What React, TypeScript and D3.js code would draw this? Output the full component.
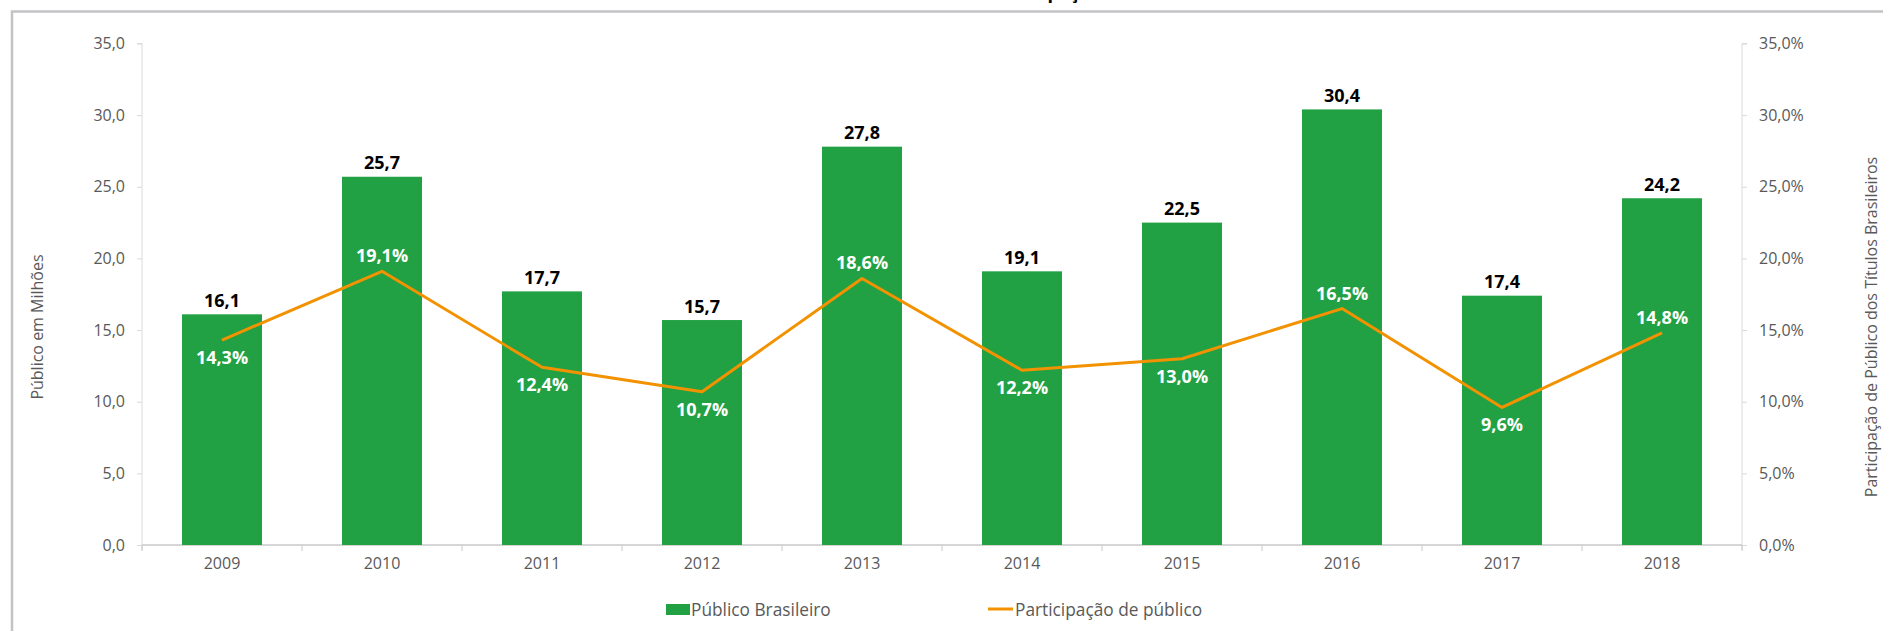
import React, { useEffect, useRef } from 'react';
import * as d3 from 'd3';

const years = ['2009', '2010', '2011', '2012', '2013', '2014', '2015', '2016', '2017', '2018'];
const publico = [16.1, 25.7, 17.7, 15.7, 27.8, 19.1, 22.5, 30.4, 17.4, 24.2];
const participacao = [14.3, 19.1, 12.4, 10.7, 18.6, 12.2, 13.0, 16.5, 9.6, 14.8];
// where Excel put each % label relative to its point
const pctLabelSide = ['below', 'above', 'below', 'below', 'above', 'below', 'below', 'above', 'below', 'above'];
const leftTicks = [0, 5, 10, 15, 20, 25, 30, 35];
const rightTicks = [0, 5, 10, 15, 20, 25, 30, 35];

const width = 1883;
const height = 631;
const plot = { left: 142, right: 1742, top: 43.5, bottom: 545 };

const green = '#21a143';
const orange = '#f39200';
const gray = '#595959';
const font = '"Open Sans", "Noto Sans", sans-serif';

const fmt = (v: number, d = 1) => v.toFixed(d).replace('.', ',');

const App = () => {
  const ref = useRef<SVGSVGElement>(null);

  useEffect(() => {
    const svg = d3.select(ref.current);
    svg.selectAll('*').remove();

    // outer frame (only top & left show in the crop)
    svg
      .append('rect')
      .attr('x', 12)
      .attr('y', 11.5)
      .attr('width', width + 20)
      .attr('height', height + 20)
      .attr('fill', 'none')
      .attr('stroke', '#c3c3c6')
      .attr('stroke-width', 2.5);

    // title, mostly cut off above the frame
    svg
      .append('text')
      .attr('x', 1002)
      .attr('y', -1)
      .attr('text-anchor', 'middle')
      .attr('font-family', font)
      .attr('font-weight', 'bold')
      .attr('font-size', 18)
      .text('Público e Participação');

    const x = d3.scaleBand().domain(years).range([plot.left, plot.right]).paddingInner(0.5).paddingOuter(0.25);
    const xc = d3.scalePoint().domain(years).range([plot.left + 80, plot.right - 80]);
    const y = d3.scaleLinear().domain([0, 35]).range([plot.bottom, plot.top]);
    const y2 = d3.scaleLinear().domain([0, 35]).range([plot.bottom, plot.top]);

    // left axis
    const gl = svg.append('g').attr('transform', `translate(${plot.left},0)`);
    gl.call(
      d3
        .axisLeft(y)
        .tickValues(leftTicks)
        .tickSize(5)
        .tickPadding(12)
        .tickFormat((d) => fmt(d as number))
    );
    gl.select('.domain').attr('stroke', '#d9d9d9').attr('d', `M-5,${plot.top}H0V${plot.bottom + 5}`);
    gl.selectAll('.tick line').attr('stroke', '#d9d9d9');
    gl.selectAll('.tick text').attr('fill', gray).attr('font-size', 16).attr('font-family', font);

    // right axis
    const gr = svg.append('g').attr('transform', `translate(${plot.right},0)`);
    gr.call(
      d3
        .axisRight(y2)
        .tickValues(rightTicks)
        .tickSize(5)
        .tickPadding(12)
        .tickFormat((d) => fmt(d as number) + '%')
    );
    gr.select('.domain').attr('stroke', '#d9d9d9').attr('d', `M5,${plot.top}H0V${plot.bottom + 5}`);
    gr.selectAll('.tick line').attr('stroke', '#d9d9d9');
    gr.selectAll('.tick text').attr('fill', gray).attr('font-size', 16).attr('font-family', font);

    // bottom axis
    const gb = svg.append('g').attr('transform', `translate(0,${plot.bottom})`);
    gb.append('line')
      .attr('x1', plot.left)
      .attr('x2', plot.right)
      .attr('stroke', '#c8c8c8')
      .attr('stroke-width', 1.5);
    const bounds = d3.range(years.length + 1).map((i) => plot.left + i * x.step());
    gb.selectAll('line.tk')
      .data(bounds)
      .join('line')
      .attr('class', 'tk')
      .attr('x1', (d) => d)
      .attr('x2', (d) => d)
      .attr('y1', 0)
      .attr('y2', 6)
      .attr('stroke', '#c8c8c8');
    gb.selectAll('text')
      .data(years)
      .join('text')
      .attr('x', (d) => xc(d)!)
      .attr('y', 24)
      .attr('text-anchor', 'middle')
      .attr('fill', gray)
      .attr('font-size', 16)
      .attr('font-family', font)
      .text((d) => d);

    // bars
    svg
      .append('g')
      .selectAll('rect')
      .data(publico)
      .join('rect')
      .attr('x', (_, i) => x(years[i])!)
      .attr('width', x.bandwidth())
      .attr('y', (d) => y(d))
      .attr('height', (d) => plot.bottom - y(d))
      .attr('fill', green);

    svg
      .append('g')
      .selectAll('text')
      .data(publico)
      .join('text')
      .attr('x', (_, i) => xc(years[i])!)
      .attr('y', (d) => y(d) - 7.5)
      .attr('text-anchor', 'middle')
      .attr('font-family', font)
      .attr('font-weight', 'bold')
      .attr('font-size', 18)
      .attr('fill', '#000')
      .text((d) => fmt(d));

    // line
    const line = d3
      .line<number>()
      .x((_, i) => xc(years[i])!)
      .y((d) => y2(d));
    svg
      .append('path')
      .attr('d', line(participacao) || '')
      .attr('fill', 'none')
      .attr('stroke', orange)
      .attr('stroke-width', 3)
      .attr('stroke-linejoin', 'round');

    svg
      .append('g')
      .selectAll('text')
      .data(participacao)
      .join('text')
      .attr('x', (_, i) => xc(years[i])!)
      .attr('y', (d, i) => (pctLabelSide[i] === 'above' ? y2(d) - 9 : y2(d) + 24))
      .attr('text-anchor', 'middle')
      .attr('font-family', font)
      .attr('font-weight', 'bold')
      .attr('font-size', 18)
      .attr('fill', '#fff')
      .text((d) => fmt(d) + '%');

    // axis titles
    svg
      .append('text')
      .attr('transform', 'translate(43,327) rotate(-90)')
      .attr('text-anchor', 'middle')
      .attr('font-family', font)
      .attr('font-size', 16)
      .attr('fill', gray)
      .text('Público em Milhões');
    svg
      .append('text')
      .attr('transform', 'translate(1877,327) rotate(-90)')
      .attr('text-anchor', 'middle')
      .attr('font-family', font)
      .attr('font-size', 16)
      .attr('fill', gray)
      .text('Participação de Público dos Títulos Brasileiros');

    // legend
    const lg = svg.append('g');
    lg.append('rect').attr('x', 666).attr('y', 604).attr('width', 24).attr('height', 11).attr('fill', green);
    lg.append('text')
      .attr('x', 691)
      .attr('y', 616)
      .attr('font-family', font)
      .attr('font-size', 17.3)
      .attr('fill', gray)
      .text('Público Brasileiro');
    lg.append('line')
      .attr('x1', 988)
      .attr('x2', 1013)
      .attr('y1', 609)
      .attr('y2', 609)
      .attr('stroke', orange)
      .attr('stroke-width', 3);
    lg.append('text')
      .attr('x', 1015)
      .attr('y', 616)
      .attr('font-family', font)
      .attr('font-size', 17.3)
      .attr('fill', gray)
      .text('Participação de público');
  }, []);

  return (
    <svg
      ref={ref}
      width={width}
      height={height}
      style={{ position: 'absolute', left: 0, top: 0, background: '#fff' }}
    />
  );
};

export default App;
